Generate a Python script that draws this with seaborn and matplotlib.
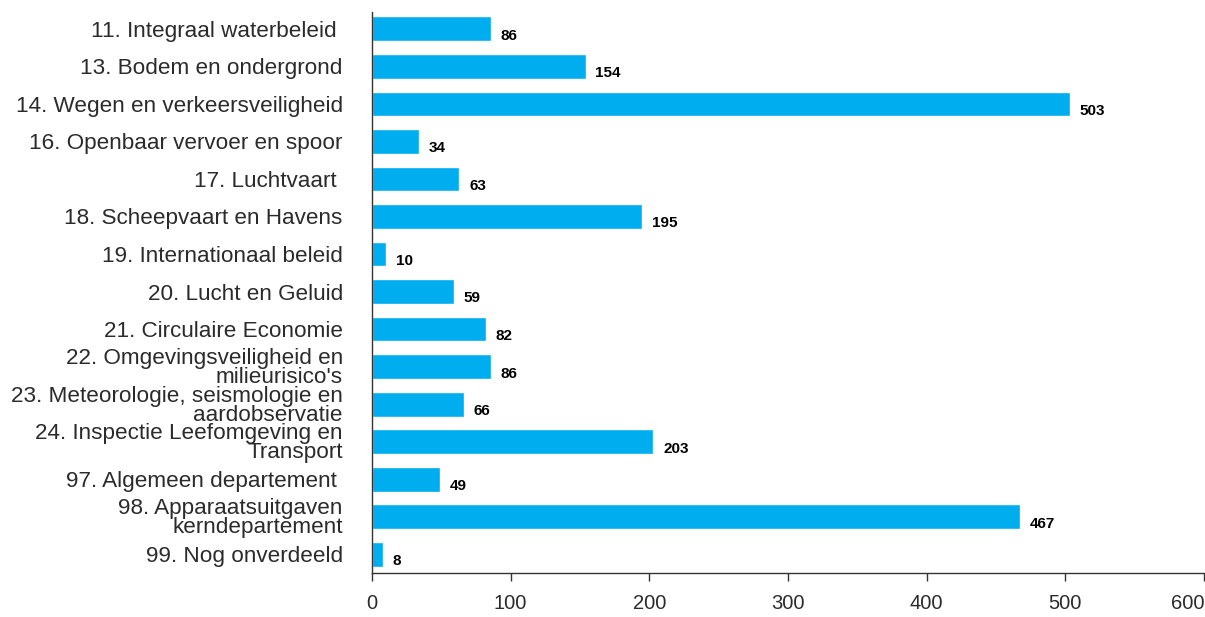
import matplotlib.pyplot as plt
import seaborn as sns
import pandas as pd

categories = [
    "11. Integraal waterbeleid ",
    "13. Bodem en ondergrond",
    "14. Wegen en verkeersveiligheid",
    "16. Openbaar vervoer en spoor",
    "17. Luchtvaart ",
    "18. Scheepvaart en Havens",
    "19. Internationaal beleid",
    "20. Lucht en Geluid",
    "21. Circulaire Economie",
    "22. Omgevingsveiligheid en\nmilieurisico's",
    "23. Meteorologie, seismologie en\naardobservatie",
    "24. Inspectie Leefomgeving en\nTransport",
    "97. Algemeen departement ",
    "98. Apparaatsuitgaven\nkerndepartement",
    "99. Nog onverdeeld",
]
values = [86, 154, 503, 34, 63, 195, 10, 59, 82, 86, 66, 203, 49, 467, 8]
x_ticks = [0, 100, 200, 300, 400, 500, 600]

sns.set_style('white')
plt.rcParams['font.family'] = ['Liberation Sans', 'DejaVu Sans']

df = pd.DataFrame({'cat': categories, 'val': values})

fig = plt.figure(figsize=(12.05, 6.17), dpi=100)
ax = fig.add_axes([0.3087, 0.0713, 0.6905, 0.9093])
sns.barplot(data=df, y='cat', x='val', orient='h', color='#00AEEF',
            saturation=1, width=0.66, ax=ax)

for i, v in enumerate(values):
    ax.annotate(str(v), (v, i), xytext=(7, -5), textcoords='offset points',
                va='center', ha='left', fontsize=11, fontweight='bold', color='black')

ax.set_xlim(0, 600)
ax.set_ylim(14.5, -0.45)
ax.set_xticks(x_ticks)
ax.set_xlabel('')
ax.set_ylabel('')
for s in ['top', 'right']:
    ax.spines[s].set_visible(False)
for s in ['left', 'bottom']:
    ax.spines[s].set_color('#333333')
    ax.spines[s].set_linewidth(1.0)
ax.tick_params(axis='y', length=0, pad=21, labelsize=16.2, labelcolor='#2b2b2b')
ax.tick_params(axis='x', length=6, width=1, color='#333333', pad=9,
               labelsize=14.5, labelcolor='#2b2b2b', direction='out', bottom=True)
for lbl in ax.get_yticklabels():
    lbl.set_linespacing(0.88)
ax.get_xticklabels()[-1].set_horizontalalignment('right')

plt.savefig('out.png', dpi=100)
plt.close()
